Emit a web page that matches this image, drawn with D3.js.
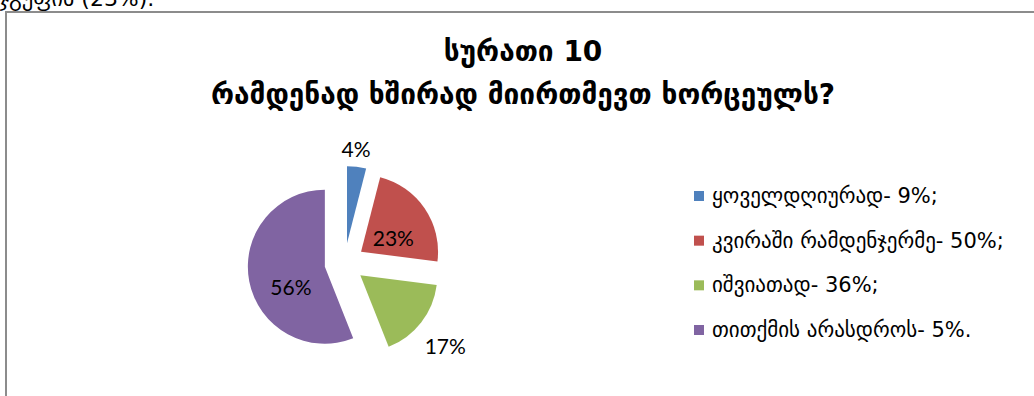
<!DOCTYPE html>
<html>
<head>
<meta charset="utf-8">
<script src="https://cdn.jsdelivr.net/npm/d3@7"></script>
<style>
  html, body { margin: 0; padding: 0; background: #fff; }
  svg { display: block; }
</style>
</head>
<body>
<svg id="chart" width="1034" height="396"></svg>
<script>
// ---- data ----
const titleLines = ["სურათი 10", "რამდენად ხშირად მიირთმევთ ხორცეულს?"];
const categories = ["ყოველდღიურად- 9%;", "კვირაში რამდენჯერმე- 50%;", "იშვიათად- 36%;", "თითქმის არასდროს- 5%."];
const values = [4, 23, 17, 56];
const colors = ["#4f81bd", "#c0504d", "#9bbb59", "#8064a2"];
const headerText = "ჯგუფის (23%).";

// ---- layout ----
const W = 1034, H = 396;
const cx = 344.5, cy = 263, R = 77, explode = 20;
// label placement per slice: [angle offset (deg), distance from slice centre as fraction of R]
const labelPlace = [[-1.7, 1.23], [10, 0.46], [1.7, 1.43], [-19.5, 0.51]];
const tau = Math.PI * 2;

const svg = d3.select("#chart");

// partial paragraph text above the chart frame (cut off at top, as in the source page)
svg.append("text")
  .attr("x", -1).attr("y", 6)
  .attr("font-family", "DejaVu Sans, Liberation Sans, sans-serif")
  .attr("font-size", 22)
  .attr("fill", "#000")
  .text(headerText);

// chart frame (left & top edges visible)
svg.append("path")
  .attr("d", d3.line()([[6, H + 2], [6, 12], [W + 2, 12]]))
  .attr("fill", "none")
  .attr("stroke", "#8c8c8c")
  .attr("stroke-width", 2);

// title
const title = svg.append("text")
  .attr("text-anchor", "middle")
  .attr("font-family", "DejaVu Sans, sans-serif")
  .attr("font-weight", "bold")
  .attr("font-size", 28)
  .attr("fill", "#000");
title.selectAll("tspan").data(titleLines).join("tspan")
  .attr("x", 523)
  .attr("y", (d, i) => 61 + i * 43)
  .text(d => d);

// pie
const pie = d3.pie().sort(null).value(d => d).startAngle(0).endAngle(tau);
const arcs = pie(values);
const arc = d3.arc().innerRadius(0).outerRadius(R);

const g = svg.append("g").attr("transform", `translate(${cx},${cy})`);
const slices = g.selectAll("g.slice").data(arcs).join("g")
  .attr("class", "slice")
  .attr("transform", d => {
    const m = (d.startAngle + d.endAngle) / 2;
    return `translate(${explode * Math.sin(m)},${-explode * Math.cos(m)})`;
  });
slices.append("path")
  .attr("d", arc)
  .attr("fill", (d, i) => colors[i]);

slices.append("text")
  .attr("text-anchor", "middle")
  .attr("dominant-baseline", "central")
  .attr("font-family", "Lato, Open Sans, sans-serif")
  .attr("font-size", 21)
  .attr("fill", "#000")
  .attr("transform", (d, i) => {
    const m = (d.startAngle + d.endAngle) / 2 + labelPlace[i][0] * Math.PI / 180;
    const r = labelPlace[i][1] * R;
    return `translate(${r * Math.sin(m)},${-r * Math.cos(m)})`;
  })
  .text(d => d.value + "%");

// legend
const legendY = d3.scalePoint().domain(categories).range([196, 330]);
const lg = svg.append("g");
const items = lg.selectAll("g").data(categories).join("g")
  .attr("transform", d => `translate(694,${legendY(d)})`);
items.append("rect")
  .attr("x", 0).attr("y", -5).attr("width", 10).attr("height", 10)
  .attr("fill", (d, i) => colors[i]);
items.append("text")
  .attr("x", 18).attr("y", 0)
  .attr("dominant-baseline", "central")
  .attr("font-family", "DejaVu Sans, sans-serif")
  .attr("font-size", 21)
  .attr("fill", "#000")
  .text(d => d);
</script>
</body>
</html>
